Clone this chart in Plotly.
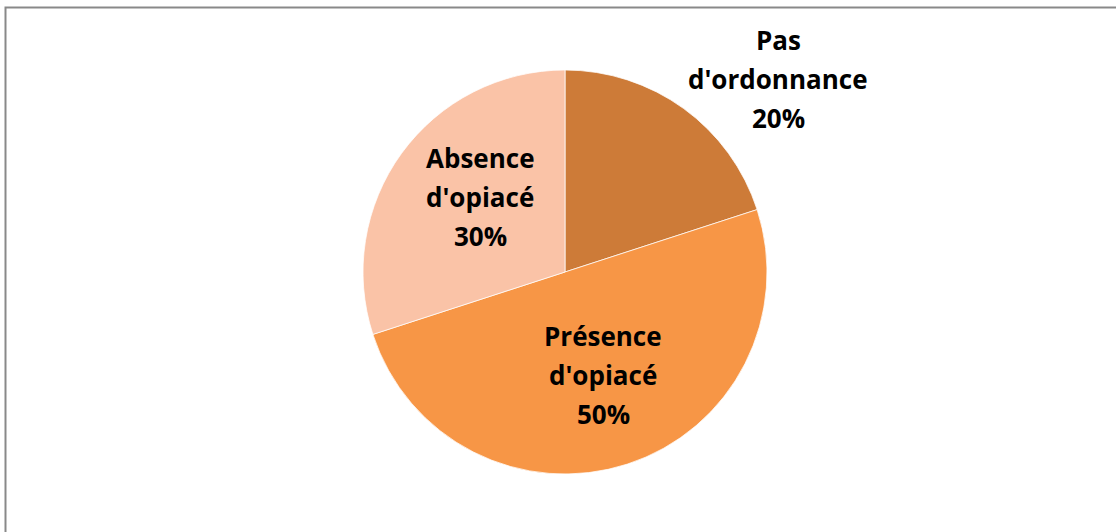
import plotly.graph_objects as go

labels = ["Pas d'ordonnance", "Présence d'opiacé", "Absence d'opiacé"]
values = [20, 50, 30]
colors = ["#CD7B38", "#F79646", "#FAC3A7"]

W, H = 1116, 532

fig = go.Figure(go.Pie(
    labels=labels,
    values=values,
    sort=False,
    direction="clockwise",
    rotation=0,
    marker=dict(colors=colors, line=dict(color="white", width=0.75)),
    textinfo="none",
    hoverinfo="label+percent",
    showlegend=False,
    domain=dict(x=[(565 - 202) / W, (565 + 202) / W],
                y=[(H - 272 - 202) / H, (H - 272 + 202) / H]),
))

# label centres (pixel) for each slice, and line layouts
label_pos = [(778, 40), (603, 336), (480, 158)]
line_gap = 39
total = sum(values)
anns = []
for lab, val, (cx, cy) in zip(labels, values, label_pos):
    first, rest = lab.split(" ", 1)
    lines = [first, rest, f"{round(100 * val / total)}%"]
    for i, t in enumerate(lines):
        anns.append(dict(
            x=cx / W, y=1 - (cy + i * line_gap) / H, xref="paper", yref="paper",
            text=f"<b>{t}</b>", showarrow=False, xanchor="center", yanchor="middle",
            font=dict(family="Open Sans", size=26, color="black"),
        ))

fig.update_layout(
    width=W, height=H,
    margin=dict(l=0, r=0, t=0, b=0),
    paper_bgcolor="white",
    plot_bgcolor="white",
    annotations=anns,
    shapes=[dict(type="rect", xref="paper", yref="paper",
                 x0=5.5 / W, x1=1.05, y0=-0.05, y1=1 - 7.5 / H,
                 line=dict(color="#898989", width=2), fillcolor="rgba(0,0,0,0)")],
)

fig.write_html("out.html", config={"displayModeBar": False},
               post_script="document.body.style.margin='0';document.body.style.overflow='hidden';")
